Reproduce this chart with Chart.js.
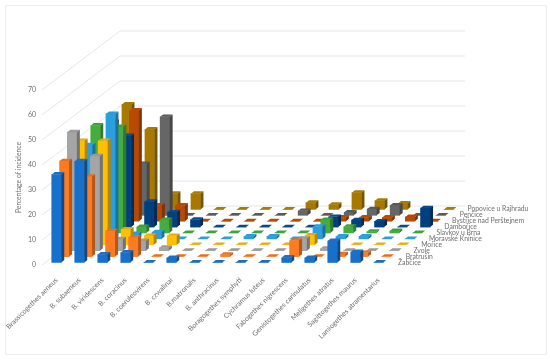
<!DOCTYPE html>
<html>
<head>
<meta charset="utf-8">
<style>
    html, body { margin: 0; padding: 0; background: #fff; }
    #frame { position: absolute; left: 5px; top: 5px; width: 540px; height: 348px; border: 1px solid #eeeeee; }
    #chart { position: absolute; left: 0; top: 0; }
</style>
<script src="https://cdn.jsdelivr.net/npm/chart.js@4/dist/chart.umd.min.js"></script>
</head>
<body>
<div id="frame"></div>
<canvas id="chart" width="550" height="360"></canvas>
<script>
const species = ['Brassicogethes aeneus', 'B. subaeneus', 'B. viridescens', 'B. coracinus', 'B. coeruleovirens',
    'B. czwalinai', 'B.matronalis', 'B. anthracinus', 'Boragogethes symphyti', 'Cychramus luteus',
    'Fabogethes nigrescens', 'Genistogethes carinulatus', 'Meligethes atratus', 'Sagittogethes maurus',
    'Lamiogethes atramentarius'];
const yTicks = [0, 10, 20, 30, 40, 50, 60, 70];

// one list per locality, front row first
const zabcice = [35.2, 40.5, 3.2, 4, 0, 1.8, 0, 0, 0, 0, 2, 1.8, 8.6, 4.2, 0];
const bratrusin = [38.2, 32, 10.2, 7.7, 0, 0, 0, 0.8, 0, 0, 6.4, 0, 1, 1.5, 0];
const zvole = [47.4, 37.8, 4.6, 3.9, 1.2, 0, 0, 0, 0, 0, 4.8, 0.8, 0, 0, 0];
const morice = [41.6, 41.6, 6.2, 3.6, 3.6, 0, 0, 0, 0, 0, 3.8, 0, 0, 0, 0];
const moravskeKninice = [37.5, 50, 2, 2.7, 0, 0, 0, 1, 1, 0, 4.9, 1, 1, 0, 0];
const slavkov = [43, 42.4, 2.4, 5.2, 0, 0, 0, 0, 0, 0, 5.2, 2.5, 0.5, 0.8, 0];
const damborice = [33, 36.5, 10.2, 6, 3, 0, 0, 0, 0, 0, 4.1, 2.8, 2.3, 0, 7.6];
const bystrice = [39.8, 44.3, 6.3, 6.3, 0, 0, 0, 0, 0, 0, 1.5, 1.5, 1.5, 1.7, 0];
const pencice = [30, 20.6, 39.4, 0, 0, 0, 0, 0, 1.8, 0, 1.2, 2.5, 4, 0, 0];
const popovice = [42, 32, 6.3, 6.3, 0, 0, 0, 0, 2.7, 1.9, 6.7, 3.5, 2.4, 0, 0];

const localities = ['Žabčice', 'Bratrušín', 'Zvole', 'Mořice', 'Moravské Knínice', 'Slavkov u Brna',
    'Dambořice', 'Bystřice nad Perštejnem', 'Penčice', 'Popovice u Rajhradu'];
const rows = [zabcice, bratrusin, zvole, morice, moravskeKninice, slavkov, damborice, bystrice, pencice, popovice];
const frontColors = ['#1670cc', '#ff7b1f', '#a5a5a5', '#ffc000', '#2a9fe0', '#45ad3e', '#00407f', '#b84a00', '#666666', '#a87800'];
const sideColors = ['#0d4a8a', '#b8561a', '#737373', '#b38600', '#1c6f9e', '#2f7a2b', '#002c59', '#813400', '#474747', '#755400'];
const topColors = ['#1f6fc0', '#e8701a', '#9a9a9a', '#e8aa10', '#2a9fe0', '#3fa33a', '#0a4a8a', '#b84a00', '#5a5a5a', '#a67c00'];

const TEXT_COLOR = '#6e6e6e';
const FONT_FAMILY = 'Lato, "Open Sans", sans-serif';

// oblique projection of the floor
const ROW_DX = 7.8;
const ROW_DY = 5.9;
const FRONT_LIFT = 2.5;
const BAR_DX = 3;
const BAR_DY = 2.4;
const WALL_DX = 78;
const WALL_DY = 59;
const WALL_RIGHT = 465;
const WALL_LEFT = 42;

const walls = {
    id: 'walls',
    beforeDatasetsDraw(chart) {
        const ctx = chart.ctx;
        const yScale = chart.scales.y;
        ctx.save();
        ctx.strokeStyle = '#e6e6e6';
        ctx.lineWidth = 1;
        yTicks.forEach(tick => {
            const y = yScale.getPixelForValue(tick);
            ctx.beginPath();
            ctx.moveTo(WALL_LEFT, y);
            ctx.lineTo(WALL_LEFT + WALL_DX, y - WALL_DY);
            ctx.lineTo(WALL_RIGHT, y - WALL_DY);
            ctx.stroke();
        });
        ctx.restore();
    },
    afterDatasetsDraw(chart) {
        const ctx = chart.ctx;
        const base = chart.scales.y.getPixelForValue(0);
        ctx.save();
        ctx.fillStyle = TEXT_COLOR;
        ctx.font = '6.8px ' + FONT_FAMILY;
        ctx.textBaseline = 'middle';
        localities.forEach((name, i) => {
            ctx.fillText(name, 398 + i * 7.72, base - 2 - i * 5.98);
        });
        ctx.restore();
    }
};

// shifts each row back on the floor and adds the top and side of every bar
const depthBars = {
    id: 'depthBars',
    beforeDatasetDraw(chart, args) {
        const r = args.index;
        chart.ctx.save();
        chart.ctx.translate(r * ROW_DX, -FRONT_LIFT - r * ROW_DY);
    },
    afterDatasetDraw(chart, args) {
        const ctx = chart.ctx;
        const r = args.index;
        args.meta.data.forEach(bar => {
            const p = bar.getProps(['x', 'y', 'base', 'width']);
            const left = p.x - p.width / 2;
            const right = p.x + p.width / 2;
            // top face
            ctx.fillStyle = topColors[r];
            ctx.beginPath();
            ctx.moveTo(left, p.y);
            ctx.lineTo(right, p.y);
            ctx.lineTo(right + BAR_DX, p.y - BAR_DY);
            ctx.lineTo(left + BAR_DX, p.y - BAR_DY);
            ctx.closePath();
            ctx.fill();
            // side face
            if (p.base - p.y > 0.1) {
                ctx.fillStyle = sideColors[r];
                ctx.beginPath();
                ctx.moveTo(right, p.y);
                ctx.lineTo(right + BAR_DX, p.y - BAR_DY);
                ctx.lineTo(right + BAR_DX, p.base - BAR_DY);
                ctx.lineTo(right, p.base);
                ctx.closePath();
                ctx.fill();
            }
        });
        ctx.restore();
    }
};

const datasets = rows.map((values, i) => ({
    label: localities[i],
    data: values,
    backgroundColor: frontColors[i],
    grouped: false,
    barThickness: 9.5,
    clip: false
}));

new Chart(document.getElementById('chart'), {
    type: 'bar',
    data: { labels: species, datasets: datasets },
    plugins: [walls, depthBars],
    options: {
        responsive: false,
        animation: false,
        layout: { padding: { top: 90, right: 160, left: 0, bottom: 0 } },
        plugins: { legend: { display: false }, tooltip: { enabled: false } },
        scales: {
            x: {
                grid: { display: false },
                border: { display: false },
                ticks: {
                    color: TEXT_COLOR,
                    font: { family: FONT_FAMILY, size: 7 },
                    minRotation: 45,
                    maxRotation: 45,
                    autoSkip: false,
                    padding: 3
                },
                afterFit(scale) { scale.height = 95; }
            },
            y: {
                min: 0,
                max: 70,
                grid: { display: false },
                border: { display: false },
                ticks: {
                    color: TEXT_COLOR,
                    font: { family: FONT_FAMILY, size: 7 },
                    stepSize: 10,
                    padding: 1
                },
                title: {
                    display: true,
                    text: 'Percentage of incidence',
                    color: TEXT_COLOR,
                    font: { family: FONT_FAMILY, size: 6.8, weight: 'normal' },
                    padding: { top: 15, bottom: 0 }
                },
                afterFit(scale) { scale.width = 45; }
            }
        }
    }
});
</script>
</body>
</html>
